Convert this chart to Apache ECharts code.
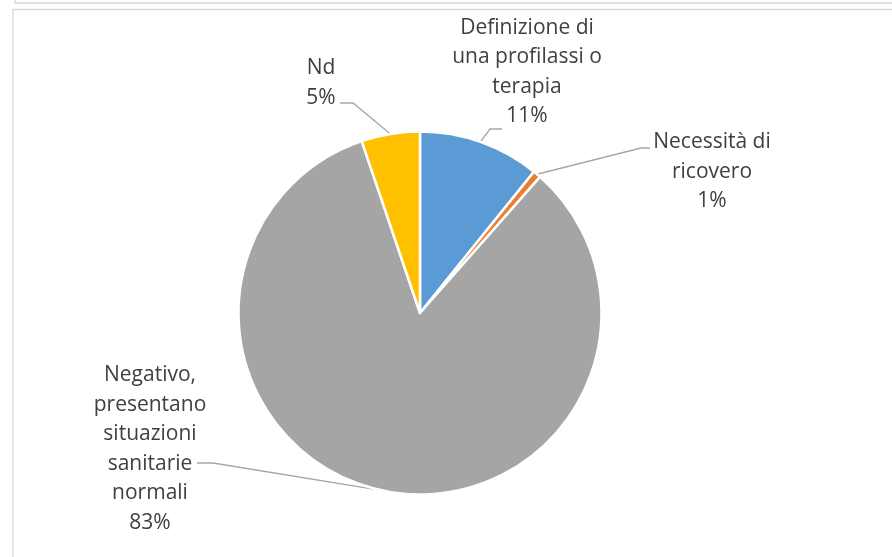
<!DOCTYPE html>
<html>
<head>
<meta charset="utf-8">
<script src="https://cdn.jsdelivr.net/npm/echarts@6/dist/echarts.min.js"></script>
<style>html,body{margin:0;padding:0;background:#fff}#c{width:892px;height:557px}</style>
</head>
<body>
<div id="c"></div>
<script>
// Data
const categories = [
  "Definizione di\nuna profilassi o\nterapia",
  "Necessità di\nricovero",
  "Negativo,\npresentano\nsituazioni\nsanitarie\nnormali",
  "Nd"
];
const values = [10.8, 0.7, 83.3, 5.2];
const colors = ["#5B9BD5", "#ED7D31", "#A5A5A5", "#FFC000"];

// Label placement (layout only)
const labelPos = [
  { x: 527, y: 72, elbow: [490, 129], end: [502, 129] },
  { x: 712, y: 172, elbow: [641, 148], end: [650, 148] },
  { x: 150, y: 449, elbow: [213, 463], end: [197, 463] },
  { x: 321, y: 83, elbow: [353, 103], end: [340, 103] }
];

const chart = echarts.init(document.getElementById('c'), null, { renderer: 'canvas' });
chart.setOption({
  animation: false,
  backgroundColor: '#ffffff',
  graphic: [
    { type: 'rect', shape: { x: 15, y: -50, width: 900, height: 53 }, style: { fill: 'none', stroke: '#d9d9d9', lineWidth: 1.3 }, silent: true },
    { type: 'rect', shape: { x: 13, y: 9.5, width: 900, height: 600 }, style: { fill: 'none', stroke: '#d9d9d9', lineWidth: 1.3 }, silent: true }
  ],
  series: [{
    type: 'pie',
    center: [420, 313],
    radius: 181.5,
    startAngle: 90,
    clockwise: true,
    avoidLabelOverlap: false,
    percentPrecision: 0,
    itemStyle: { borderColor: '#ffffff', borderWidth: 2.5 },
    label: {
      show: true,
      position: 'outside',
      formatter: '{b}\n{d}%',
      fontFamily: "'Open Sans', sans-serif",
      fontSize: 21,
      lineHeight: 29.5,
      color: '#404040',
      align: 'center'
    },
    labelLine: { show: true, length: 15, length2: 10, lineStyle: { color: '#a6a6a6', width: 1.3 } },
    labelLayout: function (params) {
      const p = labelPos[params.dataIndex];
      const start = params.labelLinePoints ? params.labelLinePoints[0] : p.elbow;
      return {
        x: p.x, y: p.y, align: 'center', verticalAlign: 'middle',
        labelLinePoints: [start, p.elbow, p.end]
      };
    },
    emphasis: { disabled: true },
    data: categories.map((c, i) => ({ name: c, value: values[i], itemStyle: { color: colors[i] } }))
  }]
});
</script>
</body>
</html>
